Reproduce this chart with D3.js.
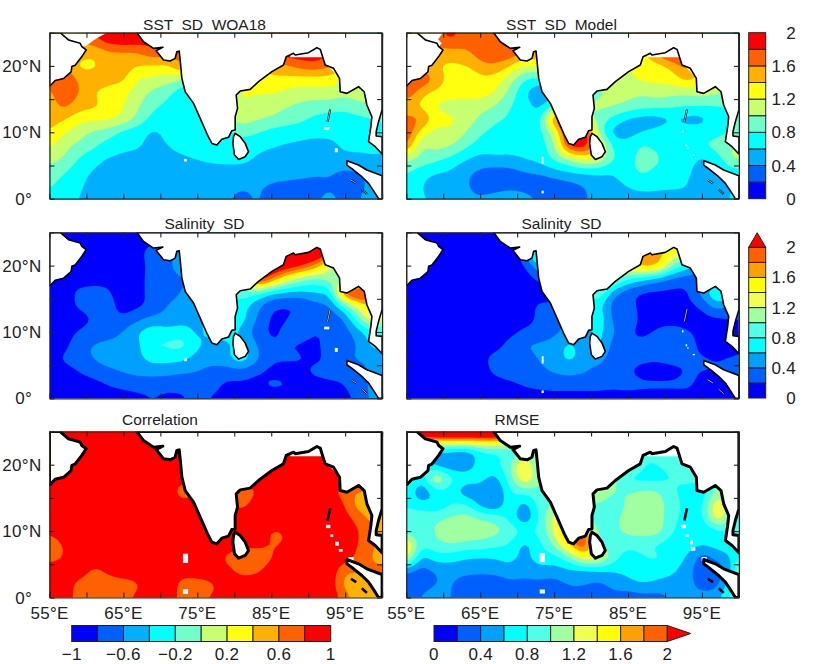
<!DOCTYPE html>
<html>
<head>
<meta charset="utf-8">
<script src="https://cdn.jsdelivr.net/npm/d3@7"></script>
<style>
  html, body { margin: 0; padding: 0; background: #fff; }
  svg { display: block; }
  text { font-family: "Liberation Sans", sans-serif; fill: #222; white-space: pre; }
</style>
</head>
<body>
<svg id="chart" width="830" height="664"></svg>
<script>
// grid nodes: rows run north to south, columns west to east
const gridLons = d3.range(55, 103, 2)
const gridLats = d3.range(26, -2, -2)

const sstWoa = [
  [1.5,1.5,1.6,1.9,2,2,2,2,1.9,1.6,1,1,1,1,1.5,1.9,2,2,2,2,1.6,1.2,1,1],
  [1.5,1.5,1.6,1.75,1.95,2,1.95,1.9,1.8,1.6,1,1,1,1,1.5,1.9,2,2,2,2,1.6,1.2,1,1],
  [1.5,1.5,1.5,1.42,1.55,1.55,1.58,1.75,1.7,1.7,1,1,1,1,1.4,1.7,1.95,1.95,1.95,1.8,1.4,1.2,1,1],
  [1.7,1.6,1.32,1.34,1.5,1.5,1.39,1.38,1.35,1.7,1.2,1,1,1,1.3,1.5,1.55,1.7,1.75,1.65,1.4,1.2,1,1],
  [1.6,1.85,1.55,1.52,1.5,1.45,1.18,1.15,1.1,1,.8,.8,1,1.2,1.4,1.35,1.35,1.3,1.3,1.3,1.2,1.1,1,1],
  [1.55,1.75,1.62,1.39,1.3,1.25,1.1,.95,.85,.65,.6,.6,.8,1.28,1.2,1.22,1.15,1.12,1.12,1.15,1.05,1.15,1,1],
  [1.5,1.68,1.5,1.45,1.35,1.22,1.02,.85,.75,.68,.8,1,1.1,1.15,1.12,1.1,1.02,.95,.9,.88,.85,.95,1,1],
  [1.5,1.42,1.25,1.25,1.25,1.15,.95,.72,.65,.62,.7,.95,1,1.1,1.03,.98,.9,.85,.75,.72,.72,.75,.8,.8],
  [1.4,1.22,1.08,.95,.9,.72,.66,.55,.65,.65,.65,.85,.7,.9,.82,.72,.7,.68,.66,.65,.65,.65,.7,.85],
  [1.25,1.05,.95,.85,.7,.65,.62,.55,.6,.65,.65,.82,.7,.68,.65,.62,.58,.55,.52,.55,.65,.65,.7,.7],
  [1.05,1,.78,.65,.58,.55,.55,.52,.55,.58,.62,.65,.68,.68,.58,.52,.5,.5,.5,.5,.55,.55,.55,.5],
  [.95,.82,.65,.58,.52,.5,.48,.48,.48,.48,.48,.5,.5,.5,.48,.48,.48,.45,.42,.42,.35,.4,.5,.5],
  [.85,.68,.62,.55,.48,.48,.5,.48,.68,.48,.46,.45,.45,.42,.42,.38,.35,.35,.35,.38,.32,.32,.5,.5],
  [.7,.62,.6,.55,.5,.48,.48,.48,.46,.46,.46,.42,.42,.35,.42,.35,.33,.33,.38,.45,.35,.38,.6,.6]
]

const sstModel = [
  [1.5,1.5,1.7,1.9,1.7,1.7,1.8,1.8,1.5,1,1,1,1,1,1,1.5,2,2,2,2,1.5,1.2,1,1],
  [1.5,1.5,1.7,1.85,1.7,1.7,1.75,1.9,1.5,1,1,1,1,1,1,1.5,2,2,2,2,1.5,1.2,1,1],
  [1.5,1.5,1.5,1.5,1.55,1.7,1.75,1.8,1.6,1.6,1,1,1,1,1,1.2,1.3,1.7,1.95,1.95,1.5,1.2,1,1],
  [1.6,1.5,1.4,1.35,1.4,1.55,1.6,1.4,1.15,1.3,1,1,1,1,1.1,1.2,1.3,1.3,1.45,1.7,1.4,1.2,1,1],
  [1.7,1.85,1.55,1.3,1.12,1.35,1.3,1.08,.8,.7,.8,.9,1,1.1,1,1.15,1.25,1.25,1.3,1.5,1.3,1.1,1,1],
  [1.85,1.45,1.35,1.3,1.3,1.3,1.22,.95,.6,.42,.5,.7,.9,.95,1.05,1.05,1.02,1.1,1.05,1.03,1.1,1.05,1,1],
  [1.4,1.35,1.15,1.1,1.1,1.1,1,.8,.7,.5,.8,1,1,1.05,1.05,.98,.9,.88,.85,.82,.8,.78,.8,.8],
  [1.7,1.65,1.3,1.25,1.15,.95,.82,.78,.68,.68,1.7,2.2,1,.95,.72,.55,.48,.48,.58,.5,.5,.72,.78,.9],
  [1.85,1.3,1.1,1.2,1,.82,.75,.72,.68,.7,1.1,2,2.2,.9,.48,.5,.6,.68,.72,.72,.72,.72,.8,.9],
  [1.7,.95,1.1,1.02,.85,.72,.68,.65,.65,.7,.9,1.95,2,1.4,.72,.68,.85,.72,.7,.72,.8,.9,1,1.1],
  [1.05,.95,.85,.75,.62,.52,.58,.58,.62,.68,.85,1,1.25,1.2,.8,.72,.9,.9,.5,.7,.55,.68,1.05,1.05],
  [.82,.68,.62,.58,.42,.35,.28,.3,.38,.42,.52,.58,.62,.62,.6,.75,.85,.72,.68,.65,.48,.5,.7,.7],
  [.72,.62,.45,.42,.42,.34,.34,.36,.32,.26,.26,.32,.38,.5,.52,.62,.68,.65,.62,.62,.45,.48,.6,.6],
  [.68,.62,.58,.52,.42,.42,.45,.48,.48,.38,.3,.3,.38,.45,.48,.5,.52,.52,.55,.55,.42,.45,.65,.65]
]

const salWoa = [
  [.1,.1,.1,.1,.1,.1,.1,.15,.2,.3,.5,.5,.5,.5,.5,1.5,2.4,2.4,2.4,2.4,2,1.5,.5,.5],
  [.1,.1,.1,.1,.1,.1,.1,.15,.2,.3,.5,.5,.5,.5,.5,1.5,2.4,2.4,2.4,2.4,2,1.5,.5,.5],
  [.1,.1,.1,.1,.1,.1,.15,.3,.3,.5,.5,.5,.5,.5,.5,1.5,2.4,2.4,2.4,2.2,1.5,1,.5,.5],
  [.1,.25,.1,.1,.1,.1,.1,.3,.32,.6,.5,.5,.5,.5,2.2,2.4,2.3,2.1,1.8,1.15,1,.5,.5,.5],
  [.1,.22,.1,.1,.15,.1,.12,.3,.32,.35,.5,.5,.5,.9,2.4,1.9,1.35,1.05,.9,1.15,.9,.6,.5,.5],
  [.1,.1,.25,.3,.22,.1,.12,.3,.32,.42,.5,.5,.7,1,.85,.62,.55,.55,.62,.6,2.2,2.4,2,1],
  [.1,.1,.25,.3,.28,.1,.15,.25,.42,.45,.45,.7,.7,.7,.45,.22,.18,.18,.32,.38,.85,1.4,1.7,1],
  [.1,.1,.1,.22,.25,.22,.35,.45,.45,.48,.55,.7,.7,.7,.4,.15,.18,.28,.3,.25,.38,1,1.5,1],
  [.1,.1,.22,.28,.28,.42,.62,.75,.68,.75,.52,.7,.7,.55,.28,.15,.25,.28,.2,.2,.32,.5,.8,.8],
  [.1,.12,.35,.42,.48,.48,.55,.82,.85,.9,.65,.5,.55,.7,.4,.22,.2,.18,.15,.3,.3,.42,.7,.7],
  [.1,.25,.32,.42,.5,.5,.55,.7,.68,.65,.5,.5,.55,.8,.45,.22,.22,.22,.15,.25,.4,.42,.42,.45],
  [.1,.1,.2,.28,.35,.42,.45,.45,.45,.42,.42,.3,.28,.3,.2,.15,.15,.15,.25,.28,.25,.35,.45,.45],
  [.1,.1,.1,.12,.2,.25,.3,.3,.28,.25,.2,.25,.15,.15,.15,.25,.22,.15,.12,.15,.2,.3,.5,.5],
  [.1,.1,.1,.1,.1,.1,.12,.2,.12,.18,.25,.18,.18,.22,.1,.1,.1,.1,.1,.1,.15,.25,.5,.5]
]

const salModel = [
  [.1,.1,.1,.1,.1,.1,.1,.1,.1,.5,.5,.5,.5,.5,.5,1.8,2,2,2,2,1,.5,.5,.5],
  [.1,.1,.1,.1,.1,.1,.1,.1,.1,.3,.5,.5,.5,.5,1.5,1.8,2,2,2,2,1,.5,.5,.5],
  [.1,.1,.1,.1,.1,.1,.1,.1,.3,1.3,.5,.5,.5,.5,1.5,1.5,1.85,1.7,1.4,1.3,1,.5,.5,.5],
  [.1,.1,.1,.1,.1,.1,.1,.1,.15,.6,.5,.5,.5,1,1.4,1.5,1.75,1.75,1,.7,.5,.4,.4,.4],
  [.1,.1,.1,.1,.1,.1,.1,.1,.1,.2,.5,.5,1,1.4,1.15,.8,.62,.45,.32,.28,.25,.3,.4,.4],
  [.1,.1,.1,.1,.1,.1,.1,.1,.1,.1,.15,.5,.9,1.05,.45,.25,.15,.15,.15,.15,.5,.9,.9,.5],
  [.1,.1,.1,.1,.1,.1,.1,.1,.1,.25,.2,.5,.5,.7,.28,.25,.15,.15,.15,.15,.22,.55,.3,.3],
  [.1,.1,.1,.1,.1,.1,.1,.1,.1,.25,.28,.5,.6,.8,.32,.3,.15,.15,.12,.12,.12,.15,.2,.2],
  [.1,.1,.1,.1,.1,.1,.1,.12,.25,.25,.35,.45,.45,.7,.42,.22,.15,.22,.28,.22,.15,.1,.15,.15],
  [.1,.1,.1,.1,.1,.1,.1,.28,.42,.45,.48,.68,.5,.7,.3,.22,.25,.3,.3,.28,.15,.1,.12,.15],
  [.1,.1,.1,.1,.1,.12,.3,.3,.3,.42,.5,.68,.52,.5,.28,.25,.25,.22,.28,.22,.22,.2,.22,.25],
  [.1,.1,.1,.1,.1,.1,.25,.3,.28,.35,.42,.45,.42,.3,.25,.22,.12,.12,.12,.22,.2,.2,.22,.25],
  [.1,.1,.1,.1,.1,.1,.1,.15,.22,.25,.28,.28,.28,.28,.25,.28,.25,.25,.25,.25,.15,.12,.15,.15],
  [.1,.1,.1,.1,.1,.1,.1,.1,.1,.1,.1,.1,.1,.1,.1,.1,.1,.1,.1,.1,.1,.1,.1,.1]
]

const correlation = [
  [.95,.95,.95,.95,.95,.95,.95,.95,.95,.95,.95,.95,.95,.95,.95,.95,.95,.95,.95,.95,.95,.95,.95,.95],
  [.95,.95,.95,.95,.95,.95,.95,.95,.95,.95,.95,.95,.95,.95,.95,.95,.95,.95,.95,.95,.95,.95,.95,.95],
  [.95,.95,.95,.95,.95,.95,.95,.95,.95,.95,.95,.95,.95,.95,.95,.95,.95,.95,.95,.95,.95,.95,.95,.95],
  [.95,.95,.95,.95,.95,.95,.95,.95,.95,.95,.95,.95,.95,.95,.95,.95,.95,.95,.95,.95,.95,.95,.95,.95],
  [.95,.95,.95,.95,.95,.95,.95,.95,.95,.85,.9,.9,.9,.85,.9,.95,.95,.95,.95,.95,.95,.9,.9,.9],
  [.95,.95,.95,.95,.95,.95,.95,.95,.9,.68,.8,.8,.72,.72,.78,.95,.95,.95,.9,.82,.72,.55,.6,.6],
  [.95,.95,.95,.95,.95,.95,.95,.95,.95,.85,.9,.9,.82,.72,.88,.95,.95,.95,.95,.95,.8,.45,.4,.6],
  [.95,.95,.95,.95,.95,.95,.95,.95,.95,.95,.95,.95,.95,.9,.95,.95,.95,.95,.95,.95,.88,.7,.5,.6],
  [.85,.95,.95,.95,.95,.95,.95,.95,.95,.95,.95,.95,.95,.95,.95,.76,.8,.95,.95,.95,.95,.8,.6,.6],
  [.65,.82,.95,.95,.95,.95,.82,.95,.95,.95,.95,.95,.95,.85,.9,.78,.8,.95,.95,.95,.95,.78,.6,.5],
  [.7,.8,.95,.95,.95,.95,.95,.95,.95,.72,.9,.95,.72,.66,.6,.78,.95,.95,.95,.95,.92,.72,.55,.5],
  [.95,.95,.95,.72,.85,.95,.95,.95,.95,.9,.95,.95,.88,.7,.75,.92,.95,.95,.95,.95,.6,.65,.65,.7],
  [.95,.95,.7,.68,.7,.68,.76,.95,.95,.7,.68,.75,.95,.95,.95,.95,.95,.95,.95,.95,.5,.35,.5,.5],
  [.95,.95,.68,.72,.72,.75,.85,.95,.95,.7,.72,.85,.75,.9,.95,.95,.76,.95,.95,.95,.7,.45,.5,.5]
]

const rmse = [
  [2,3,4,4,4,4,4,3,2,1,1,1,1,1,1,1,1,1,1,1,1,1,1,1],
  [1.8,1.8,1.8,1.8,1.8,1.8,1.8,1.6,1.2,1,1,1,1,1,1,1,1,1,1,1,1,1,1,1],
  [.6,.6,.5,.5,.4,.7,.75,.8,.9,1,1,1,1,1,1,1,.8,.85,.9,.9,.9,1,1,1],
  [1,.85,.45,.4,.4,.72,.75,.95,1.6,.8,1,1,1,1,1.2,1.3,.8,.8,.9,.95,.9,.9,1,1],
  [1.1,.6,1.4,.85,.75,.7,.5,.9,1.5,1,1,1,1,1.3,1.05,.7,.7,.7,.8,.85,.9,.9,1,1],
  [.8,.35,.7,.75,.4,.5,.32,.8,.9,.95,1,1,1.3,1.3,1,1,1.05,1.05,.8,.75,.6,1.1,1,1],
  [.75,.68,.6,.8,.85,.5,.32,.8,.45,.9,1,1,1,.95,.85,1.05,1.1,1.1,.9,.72,.72,1.45,1,1],
  [.95,.95,.95,1.02,1.1,1,.95,.75,.36,.8,1.3,1.9,1,.8,.95,1.08,1.12,1.12,.85,.72,.7,1.45,1,1],
  [.85,.8,1.05,1.25,1.15,1.12,1.1,.95,.8,.85,1.2,2.1,1.9,.85,.95,1.08,1.12,1.12,.8,.7,.6,.7,.8,.8],
  [1.55,.85,.95,1,.95,.95,.85,.8,.5,.75,1,1.6,2.2,1,.85,.85,.85,.75,.7,.7,.65,.7,.72,.8],
  [1.4,.5,.72,.7,.6,.58,.6,.7,.5,.75,.7,.9,1.4,1.4,.9,.7,.8,.85,.7,.6,.25,.45,.6,.9],
  [.4,.28,.4,.45,.45,.45,.45,.5,.45,.5,.5,.55,.5,.55,.6,.65,.7,.7,.65,.5,.22,.22,.5,1.8],
  [.25,.35,.4,.42,.3,.25,.28,.35,.35,.35,.3,.42,.42,.35,.45,.55,.62,.55,.5,.45,.35,.3,.8,.8],
  [.32,.42,.45,.4,.35,.38,.35,.35,.35,.3,.3,.28,.3,.25,.35,.25,.3,.3,.42,.42,.45,.5,.9,.9]
]

// coast outlines, lon/lat
const coastWest = [[55,25],[56.44,25],[57.57,23.9],[59.15,23.4],[59.38,22.9],[59.96,22.4],[59.38,21.4],[58.47,20.1],[58.02,19.9],[57.93,19.1],[56.9,18.1],[55.77,17.8],[55.09,17],[55,17]]
const coastMain = [[66.82,25],[67.72,23.64],[69.07,22.64],[70.34,22.79],[69.43,22.29],[70.43,20.88],[71.33,20.73],[72,21.13],[72.23,22.14],[72.55,22.24],[72.68,20.88],[72.91,18.12],[73.36,16.11],[74.49,14.36],[75.39,12.1],[76.38,9.59],[76.97,8.33],[77.64,8.08],[78.32,8.94],[79.22,9.24],[79.67,10.24],[80.12,10.34],[80.12,12.35],[80.44,13.6],[80.26,15.61],[80.8,16.21],[82.15,16.47],[83.28,17.62],[85.09,19.13],[86.66,20.13],[87.03,21.39],[88.02,21.89],[88.24,21.64],[90.05,21.99],[91.17,22.74],[91.63,22.49],[92.3,20.13],[93.43,19.63],[94.24,18.12],[94.33,16.11],[95.23,15.86],[96.81,16.87],[97.58,16.11],[97.94,14.11],[98.62,12.35],[98.48,10.84],[98.17,8.58],[99.07,7.83],[100,6.73],[100,9.34],[99.2,9.44],[99.2,10.09],[99.52,11.6],[100,13.35],[100,25]]
const coastSumatra = [[95.24,5.72],[96.81,5.07],[97.94,4.32],[100,3.46],[100,0],[99.52,0],[99.07,.8],[98.17,2.31],[97.26,3.31],[96.14,4.32],[95.24,5.07]]
const coastLanka = [[80.12,9.84],[80.8,9.34],[81.48,8.33],[81.93,7.08],[81.48,6.33],[80.58,5.92],[80.03,6.58],[79.81,8.33],[79.9,9.34]]
const landShapes = [coastWest, coastMain, coastSumatra, coastLanka]
const islandLines = [[[92.98,13.45],[92.62,11.6]], [[95.78,2.81],[96.5,2.31]], [[97.26,1.4],[97.94,.7]]]

// places with no data in the field, lon/lat
const gapArabia1 = [[56.44,25],[59.38,22.9],[59.9,23],[61.4,24.15],[62.76,25]]
const gapArabia2 = [[56.44,25],[60,25],[59.3,24],[59.8,23.4],[59.38,22.9]]
const gapBay = [[87.57,21.29],[91.85,21.29],[92.75,19.9],[93.9,18.6],[94.3,18.6],[92.5,23],[87.6,23]]
const holesObs = [[92.5,10.6,.7,.4],[93.8,7.3,.4,.6],[73.4,5.8,.4,.4]]
const holesModel = [[73.45,5.8,.25,1.1],[73.45,1,.3,.4],[92.4,10.1,.2,.3],[92.9,8,.2,.3],[93.1,7.6,.2,.2],[93.9,6.6,.3,.2]]
const holesCorr = [[73.4,5.9,.7,1.4],[73.4,.9,.7,.7],[92.7,10.7,.6,.5],[93.2,9.3,.4,.4],[93.9,8.1,.5,.6],[94.4,7.1,.5,.4],[95.8,5.8,.7,.6]]
const holesRmse = [[73.4,6,.7,1.4],[73.4,.9,.7,.6],[92.5,10.7,.7,.5],[93,9.3,.4,.4],[93.6,8.3,.4,.6],[93.8,7.3,.6,.5],[95.3,5.8,.7,.6]]

const paletteA = ['#0000ff','#0060ff','#00b0ff','#00ffff','#70ffc8','#c8ff70','#ffff10','#ffb000','#ff6000','#ff0000']
const paletteB = ['#0000ff','#0060ff','#00a0ff','#00ffff','#50ffe8','#a0ffa0','#f0ff50','#ffff00','#ffa000','#ff6000','#ff0000']
const levels01 = d3.range(0, 11).map(d => d * 0.2)
const levelsCorr = d3.range(0, 11).map(d => -1 + d * 0.2)

const xTicks = [55,60,65,70,75,80,85,90,95,100]
const xTickLabels = [55,65,75,85,95]
const yTicks = [0,5,10,15,20,25]
const yTickLabels = { 0: '0°', 10: '10°N', 20: '20°N' }

const panels = [
  { title: 'SST  SD  WOA18', grid: sstWoa, left: 49.5, top: 32.7, titleX: 204.5, titleY: 30, palette: paletteA, levels: levels01.slice(0, 10), gaps: [gapArabia1, gapBay], holes: holesObs, coast: 1.6, yLabels: true },
  { title: 'SST  SD  Model', grid: sstModel, left: 406.3, top: 32.7, titleX: 561.5, titleY: 30, palette: paletteA, levels: levels01.slice(0, 10), gaps: [gapArabia2, gapBay], holes: holesModel, coast: 1.6 },
  { title: 'Salinity  SD', grid: salWoa, left: 49.5, top: 232.4, titleX: 204.5, titleY: 229, palette: paletteB, levels: levels01, gaps: [], holes: holesObs, coast: 1.6, yLabels: true },
  { title: 'Salinity  SD', grid: salModel, left: 406.3, top: 232.4, titleX: 561.5, titleY: 229, palette: paletteB, levels: levels01, gaps: [], holes: holesModel, coast: 1.6 },
  { title: 'Correlation', grid: correlation, left: 49.5, top: 431.5, titleX: 160, titleY: 425, palette: paletteA, levels: levelsCorr.slice(0, 10), gaps: [gapBay], holes: holesCorr, coast: 3, yLabels: true, xLabels: true },
  { title: 'RMSE', grid: rmse, left: 406.3, top: 431.5, titleX: 517, titleY: 425, palette: paletteB, levels: levels01, gaps: [gapBay], holes: holesRmse, coast: 3, xLabels: true }
]

const panelW = 332.6
const panelH = 166

// contouring runs on a finer mesh so the band edges come out round
const fine = 4
const fineW = (gridLons.length - 1) * fine + 1
const fineH = (gridLats.length - 1) * fine + 1

function refine(grid) {
  const out = new Float64Array(fineW * fineH)
  for (let j = 0; j < fineH; j++) {
    const r = j / fine, r0 = Math.min(Math.floor(r), grid.length - 2), tr = r - r0
    for (let i = 0; i < fineW; i++) {
      const c = i / fine, c0 = Math.min(Math.floor(c), grid[0].length - 2), tc = c - c0
      out[j * fineW + i] = (1 - tr) * ((1 - tc) * grid[r0][c0] + tc * grid[r0][c0 + 1]) +
        tr * ((1 - tc) * grid[r0 + 1][c0] + tc * grid[r0 + 1][c0 + 1])
    }
  }
  d3.blur2({ data: out, width: fineW, height: fineH }, 0.8)
  return out
}

const svg = d3.select('#chart')
const defs = svg.append('defs')
const contourMaker = d3.contours().size([fineW, fineH]).smooth(true)

panels.forEach(function (p, i) {
  const x = d3.scaleLinear().domain([55, 100]).range([p.left, p.left + panelW])
  const y = d3.scaleLinear().domain([0, 25]).range([p.top + panelH, p.top])

  defs.append('clipPath').attr('id', 'clip' + i).append('rect')
    .attr('x', p.left).attr('y', p.top).attr('width', panelW).attr('height', panelH)

  const map = svg.append('g').attr('clip-path', 'url(#clip' + i + ')')

  // contour coords sit half a cell off the nodes
  const toScreen = d3.geoTransform({
    point: function (cx, cy) {
      this.stream.point(x(gridLons[0] + (cx - 0.5) * 2 / fine), y(gridLats[0] - (cy - 0.5) * 2 / fine))
    }
  })
  const path = d3.geoPath(toScreen)
  const values = refine(p.grid)

  map.append('rect').attr('x', p.left).attr('y', p.top).attr('width', panelW).attr('height', panelH)
    .attr('fill', p.palette[0])

  map.selectAll('path.band')
    .data(contourMaker.thresholds(p.levels.slice(1))(Array.from(values)))
    .enter()
    .append('path')
    .attr('class', 'band')
    .attr('d', path)
    .attr('fill', function (d, k) { return p.palette[k + 1] })

  const line = d3.line().x(d => x(d[0])).y(d => y(d[1]))

  map.selectAll('path.gap').data(p.gaps).enter().append('path').attr('class', 'gap')
    .attr('d', d => line(d) + 'Z').attr('fill', '#fff')

  map.selectAll('rect.hole').data(p.holes).enter().append('rect').attr('class', 'hole')
    .attr('x', d => x(d[0] - d[2] / 2))
    .attr('y', d => y(d[1] + d[3] / 2))
    .attr('width', d => x(d[2]) - x(0))
    .attr('height', d => y(0) - y(d[3]))
    .attr('fill', '#fff')

  map.selectAll('path.land').data(landShapes).enter().append('path').attr('class', 'land')
    .attr('d', d => line(d) + 'Z')
    .attr('fill', '#fff').attr('stroke', '#000').attr('stroke-width', p.coast).attr('stroke-linejoin', 'round')

  map.selectAll('path.isle').data(islandLines).enter().append('path').attr('class', 'isle')
    .attr('d', line).attr('fill', 'none').attr('stroke', '#000').attr('stroke-width', p.coast > 2 ? 2.6 : 2)
  if (p.coast < 2) {
    map.selectAll('path.isle2').data(islandLines).enter().append('path').attr('class', 'isle2')
      .attr('d', line).attr('fill', 'none').attr('stroke', '#fff').attr('stroke-width', 0.7)
  }

  // frame and inward ticks
  const axisStyle = function (g) {
    g.select('.domain').attr('stroke', '#222').attr('stroke-width', 1.2)
    g.selectAll('.tick line').attr('stroke', '#222').attr('stroke-width', 1.1)
    g.selectAll('.tick text').remove()
  }
  svg.append('g').attr('transform', 'translate(0,' + (p.top + panelH) + ')')
    .call(d3.axisBottom(x).tickValues(xTicks).tickSize(-5).tickSizeOuter(0)).call(axisStyle)
  svg.append('g').attr('transform', 'translate(0,' + p.top + ')')
    .call(d3.axisTop(x).tickValues(xTicks).tickSize(-5).tickSizeOuter(0)).call(axisStyle)
  svg.append('g').attr('transform', 'translate(' + p.left + ',0)')
    .call(d3.axisLeft(y).tickValues(yTicks).tickSize(-5).tickSizeOuter(0)).call(axisStyle)
  svg.append('g').attr('transform', 'translate(' + (p.left + panelW) + ',0)')
    .call(d3.axisRight(y).tickValues(yTicks).tickSize(-5).tickSizeOuter(0)).call(axisStyle)

  svg.append('text').attr('x', p.titleX).attr('y', p.titleY).attr('text-anchor', 'middle')
    .attr('font-size', 15.5).text(p.title)

  if (p.yLabels) {
    svg.selectAll(null).data([0, 10, 20]).enter().append('text')
      .attr('x', d => d === 0 ? 32 : p.left - 8).attr('y', d => y(d) + 6)
      .attr('text-anchor', 'end').attr('font-size', 17).attr('letter-spacing', 0.3)
      .text(d => yTickLabels[d])
  }
  if (p.xLabels) {
    svg.selectAll(null).data(xTickLabels).enter().append('text')
      .attr('x', d => x(d)).attr('y', p.top + panelH + 21)
      .attr('text-anchor', 'middle').attr('font-size', 17).attr('letter-spacing', 0.3)
      .text(d => d + '°E')
  }
})

// colour bars
function verticalBar(colors, top, bottom, tipTop, labels) {
  const n = colors.length - (tipTop == null ? 0 : 1)
  const v = d3.scaleLinear().domain([0, 2]).range([bottom, top])
  const band = d3.range(n).map(d => d * 2 / n)
  const g = svg.append('g')
  g.selectAll('rect').data(band).enter().append('rect')
    .attr('x', 748.7).attr('width', 17)
    .attr('y', d => v(d + 2 / n)).attr('height', d => v(d) - v(d + 2 / n))
    .attr('fill', (d, i) => colors[i]).attr('stroke', '#222').attr('stroke-width', 1)
  if (tipTop != null) {
    g.append('path').attr('d', 'M748.7,' + top + 'L757.2,' + tipTop + 'L765.7,' + top + 'Z')
      .attr('fill', colors[n]).attr('stroke', '#222').attr('stroke-width', 1)
  }
  g.selectAll('text').data(labels).enter().append('text')
    .attr('x', 796).attr('y', d => v(d) + 6).attr('text-anchor', 'end').attr('font-size', 17).attr('letter-spacing', 0.3)
    .text(d => d)
}
verticalBar(paletteA, 32.7, 198.7, null, [0, 0.4, 0.8, 1.2, 1.6, 2])
verticalBar(paletteB, 247.3, 398, 232.7, [0, 0.4, 0.8, 1.2, 1.6, 2])

function horizontalBar(colors, left, right, tipRight, lo, hi, labels) {
  const n = colors.length - (tipRight == null ? 0 : 1)
  const h = d3.scaleLinear().domain([lo, hi]).range([left, right])
  const step = (hi - lo) / n
  const band = d3.range(n).map(d => lo + d * step)
  const g = svg.append('g')
  g.selectAll('rect').data(band).enter().append('rect')
    .attr('x', d => h(d)).attr('width', d => h(d + step) - h(d))
    .attr('y', 625.5).attr('height', 16)
    .attr('fill', (d, i) => colors[i]).attr('stroke', '#222').attr('stroke-width', 1)
  if (tipRight != null) {
    g.append('path').attr('d', 'M' + right + ',625.5L' + tipRight + ',633.5L' + right + ',641.5Z')
      .attr('fill', colors[n]).attr('stroke', '#222').attr('stroke-width', 1)
  }
  g.selectAll('text').data(labels).enter().append('text')
    .attr('x', d => h(d)).attr('y', 660).attr('text-anchor', 'middle').attr('font-size', 17).attr('letter-spacing', 0.3)
    .text(d => String(d).replace('-', '−'))
}
horizontalBar(paletteA, 71.7, 330.7, null, -1, 1, [-1, -0.6, -0.2, 0.2, 0.6, 1])
horizontalBar(paletteB, 434, 667.3, 690.7, 0, 2, [0, 0.4, 0.8, 1.2, 1.6, 2])
</script>
</body>
</html>
